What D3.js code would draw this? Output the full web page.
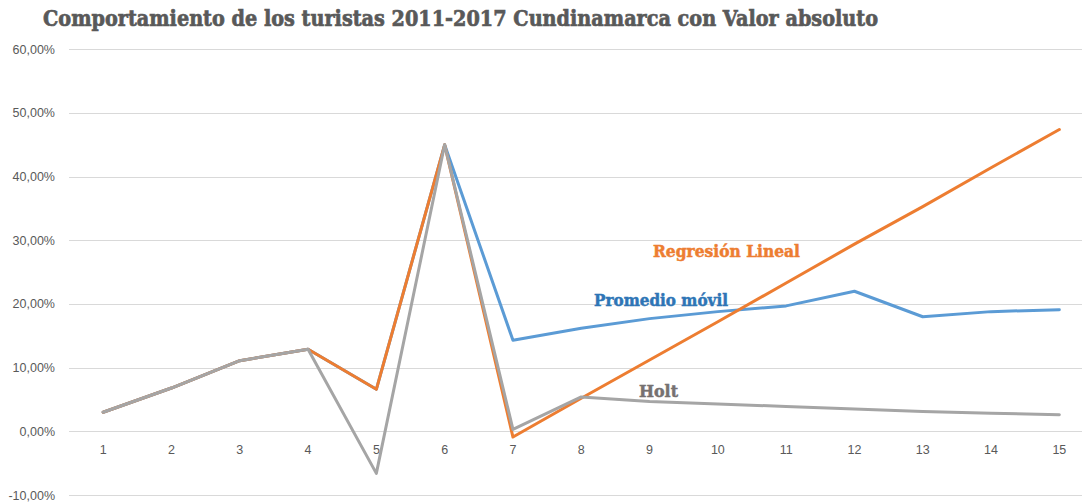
<!DOCTYPE html>
<html>
<head>
<meta charset="utf-8">
<script src="https://cdn.jsdelivr.net/npm/d3@7"></script>
<style>
  html, body { margin: 0; padding: 0; background: #fff; }
  svg { display: block; }
</style>
</head>
<body>
<div id="chart"></div>
<script>
// Periods 1..15 (observed + forecast)
const periods = [1, 2, 3, 4, 5, 6, 7, 8, 9, 10, 11, 12, 13, 14, 15];

// Series values in percent
const promedioMovil = [3.0, 6.8, 11.1, 12.9, 6.6, 45.0, 14.3, 16.2, 17.7, 18.8, 19.7, 22.0, 18.0, 18.8, 19.1];
const regresionLineal = [3.0, 6.8, 11.1, 12.9, 6.6, 45.0, -0.9, 5.2, 11.2, 17.2, 23.3, 29.4, 35.3, 41.4, 47.4];
const holt = [3.0, 6.8, 11.1, 12.9, -6.6, 45.0, 0.3, 5.4, 4.7, 4.3, 3.9, 3.5, 3.1, 2.85, 2.6];

const yTicks = [-10, 0, 10, 20, 30, 40, 50, 60];

const W = 1082, H = 504;
const margin = { left: 69, right: 0, top: 49, bottom: 9 };

const svg = d3.select("#chart").append("svg")
  .attr("width", W).attr("height", H);

const x = d3.scaleBand()
  .domain(periods)
  .range([margin.left, margin.left + 68.3 * 15]);

const y = d3.scaleLinear()
  .domain([-10, 60])
  .range([495, 49.3]);

const fmt = v => v.toFixed(2).replace(".", ",") + "%";

// Horizontal gridlines
svg.append("g")
  .selectAll("line")
  .data(yTicks)
  .join("line")
  .attr("x1", margin.left)
  .attr("x2", W)
  .attr("y1", d => Math.round(y(d)) + 0.5)
  .attr("y2", d => Math.round(y(d)) + 0.5)
  .attr("stroke", "#d9d9d9")
  .attr("stroke-width", 1);

// Y axis labels
const yAxis = d3.axisLeft(y).tickValues(yTicks).tickFormat(fmt).tickSize(0).tickPadding(0);
svg.append("g")
  .attr("transform", `translate(55,0)`)
  .call(yAxis)
  .call(g => g.select(".domain").remove())
  .call(g => g.selectAll("text")
    .attr("fill", "#595959")
    .attr("font-family", "Liberation Sans, Arial, sans-serif")
    .attr("font-size", 12.5));

// X axis labels
const xAxis = d3.axisBottom(x).tickSize(0).tickPadding(0);
svg.append("g")
  .attr("transform", `translate(0,445)`)
  .call(xAxis)
  .call(g => g.select(".domain").remove())
  .call(g => g.selectAll("text")
    .attr("fill", "#595959")
    .attr("font-family", "Liberation Sans, Arial, sans-serif")
    .attr("font-size", 12.5));

const line = d3.line()
  .x((d, i) => x(periods[i]) + x.bandwidth() / 2)
  .y(d => y(d));

const series = [
  { values: promedioMovil, color: "#5B9BD5" },
  { values: regresionLineal, color: "#ED7D31" },
  { values: holt, color: "#A5A5A5" }
];

svg.append("g")
  .selectAll("path")
  .data(series)
  .join("path")
  .attr("d", d => line(d.values))
  .attr("fill", "none")
  .attr("stroke", d => d.color)
  .attr("stroke-width", 3)
  .attr("stroke-linejoin", "round")
  .attr("stroke-linecap", "round");

// Title
svg.append("text")
  .attr("x", 43)
  .attr("y", 26)
  .attr("fill", "#595959")
  .attr("stroke", "#595959")
  .attr("stroke-width", 0.7)
  .attr("font-family", "DejaVu Serif, serif")
  .attr("font-weight", "bold")
  .attr("font-size", 22)
  .attr("textLength", 835)
  .attr("lengthAdjust", "spacingAndGlyphs")
  .text("Comportamiento de los turistas 2011-2017 Cundinamarca con Valor absoluto");

// Series labels
const labels = [
  { text: "Regresión Lineal", x: 653, y: 257, w: 147, color: "#ED7D31" },
  { text: "Promedio móvil", x: 594, y: 306, w: 134, color: "#2E75B6" },
  { text: "Holt", x: 639, y: 397, w: 39, color: "#767171" }
];

svg.append("g")
  .selectAll("text")
  .data(labels)
  .join("text")
  .attr("x", d => d.x)
  .attr("y", d => d.y)
  .attr("fill", d => d.color)
  .attr("stroke", d => d.color)
  .attr("stroke-width", 0.5)
  .attr("font-family", "DejaVu Serif, serif")
  .attr("font-weight", "bold")
  .attr("font-size", 16)
  .attr("textLength", d => d.w)
  .attr("lengthAdjust", "spacingAndGlyphs")
  .text(d => d.text);
</script>
</body>
</html>
